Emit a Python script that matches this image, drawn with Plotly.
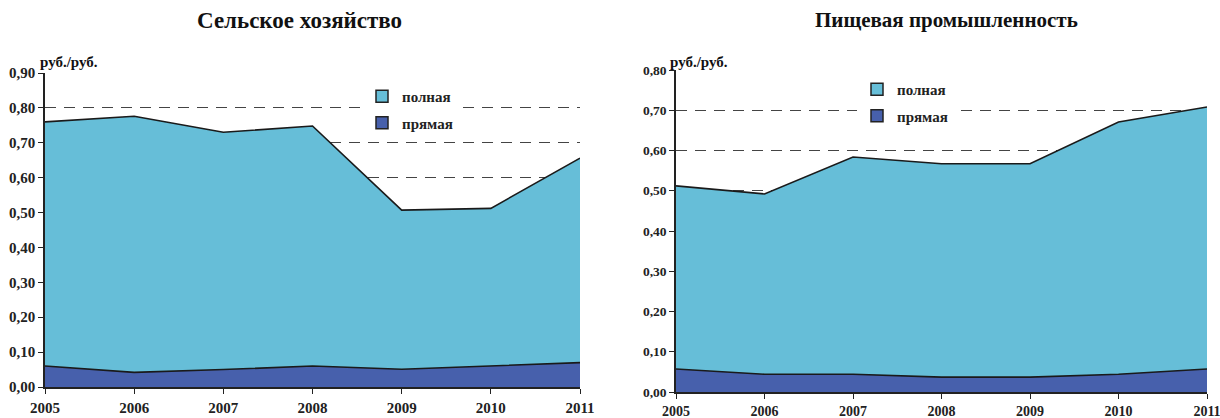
import plotly.graph_objects as go

years = [2005, 2006, 2007, 2008, 2009, 2010, 2011]
agri_full = [0.76, 0.776, 0.73, 0.748, 0.507, 0.512, 0.656]
agri_direct = [0.06, 0.042, 0.05, 0.06, 0.051, 0.06, 0.07]
food_full = [0.512, 0.492, 0.584, 0.567, 0.567, 0.671, 0.708]
food_direct = [0.057, 0.044, 0.044, 0.037, 0.037, 0.044, 0.057]

titles = ["Сельское хозяйство", "Пищевая промышленность"]
names = ["полная", "прямая"]
unit = "руб./руб."
agri_ticks = [0, 0.1, 0.2, 0.3, 0.4, 0.5, 0.6, 0.7, 0.8, 0.9]
food_ticks = [0, 0.1, 0.2, 0.3, 0.4, 0.5, 0.6, 0.7, 0.8]

C_FULL = "#66BED8"
C_DIR = "#4760AC"
FONT = "Liberation Serif"
W, H = 1220, 418

fig = go.Figure()

def add_panel(full, direct, xa, ya, legend):
    fig.add_trace(go.Scatter(x=years, y=full, fill="tozeroy", mode="lines",
                             fillcolor=C_FULL, line=dict(color="#1a1a1a", width=1.6),
                             xaxis=xa, yaxis=ya, showlegend=False, hoverinfo="skip"))
    fig.add_trace(go.Scatter(x=years, y=direct, fill="tozeroy", mode="lines",
                             fillcolor=C_DIR, line=dict(color="#1a1a1a", width=1.6),
                             xaxis=xa, yaxis=ya, showlegend=False, hoverinfo="skip"))
    for nm, col in zip(names, [C_FULL, C_DIR]):
        fig.add_trace(go.Bar(x=[None], y=[None], name=nm,
                             marker=dict(color=col, line=dict(color="#222", width=1.5)),
                             xaxis=xa, yaxis=ya, legend=legend, legendgroup=nm + legend,
                             showlegend=True))

add_panel(agri_full, agri_direct, "x", "y", "legend")
add_panel(food_full, food_direct, "x2", "y2", "legend2")

def fmt(v):
    return ("%.2f" % v).replace(".", ",")

def axis(size, **kw):
    d = dict(showline=True, linecolor="#222", linewidth=1.5, ticks="outside",
             ticklen=5, tickcolor="#222", zeroline=False, automargin=False,
             ticklabeloverflow="allow",
             tickfont=dict(family=FONT, size=size, color="#222", weight="bold"))
    d.update(kw)
    return d

fig.update_layout(
    width=W, height=H,
    margin=dict(l=0, r=0, t=0, b=0, autoexpand=False),
    paper_bgcolor="white", plot_bgcolor="white",
    font=dict(family=FONT),
    xaxis=axis(15, domain=[45 / W, 580 / W], range=[2005, 2011], tickvals=years,
               ticktext=[str(y) for y in years], showgrid=False, anchor="y",
               ticklabelstandoff=1),
    yaxis=axis(15, domain=[(H - 387) / H, (H - 73) / H], range=[0, 0.9], tickvals=agri_ticks,
               ticktext=[fmt(v) for v in agri_ticks], showgrid=True, gridcolor="#444",
               griddash="11px,8px", gridwidth=1.2, anchor="x"),
    xaxis2=axis(14, domain=[676 / W, 1207 / W], range=[2005, 2011], tickvals=years,
                ticktext=[str(y) for y in years], showgrid=False, anchor="y2",
                ticklabelstandoff=0),
    yaxis2=axis(13.5, domain=[(H - 392) / H, (H - 70) / H], range=[0, 0.8], tickvals=food_ticks,
                ticktext=[fmt(v) for v in food_ticks], showgrid=True, gridcolor="#444",
                griddash="11px,8px", gridwidth=1.2, anchor="x2"),
    legend=dict(x=362 / W, y=(H - 80) / H, xanchor="left", yanchor="top", bgcolor="white",
                font=dict(family=FONT, size=15, color="#222", weight="bold"), tracegroupgap=4,
                traceorder="grouped", itemwidth=30),
    legend2=dict(x=857 / W, y=(H - 73) / H, xanchor="left", yanchor="top", bgcolor="white",
                 font=dict(family=FONT, size=15, color="#222", weight="bold"), tracegroupgap=4,
                 traceorder="grouped", itemwidth=30),
    showlegend=True,
)

fig.add_annotation(text="<b>" + titles[0] + "</b>", x=299 / W, y=(H - 20) / H, xref="paper", yref="paper",
                   xanchor="center", yanchor="middle", showarrow=False,
                   font=dict(family=FONT, size=23, color="#111"))
fig.add_annotation(text="<b>" + titles[1] + "</b>", x=946 / W, y=(H - 20) / H, xref="paper", yref="paper",
                   xanchor="center", yanchor="middle", showarrow=False,
                   font=dict(family=FONT, size=21, color="#111"))
fig.add_annotation(text="<b>" + unit + "</b>", x=38 / W, y=(H - 62) / H, xref="paper", yref="paper",
                   xanchor="left", yanchor="middle", showarrow=False, font=dict(family=FONT, size=15, color="#111"))
fig.add_annotation(text="<b>" + unit + "</b>", x=668 / W, y=(H - 62) / H, xref="paper", yref="paper",
                   xanchor="left", yanchor="middle", showarrow=False, font=dict(family=FONT, size=15, color="#111"))

fig.write_html("out.html", config={"displayModeBar": False},
               post_script="document.body.style.margin='0px';document.body.style.overflow='hidden';")
